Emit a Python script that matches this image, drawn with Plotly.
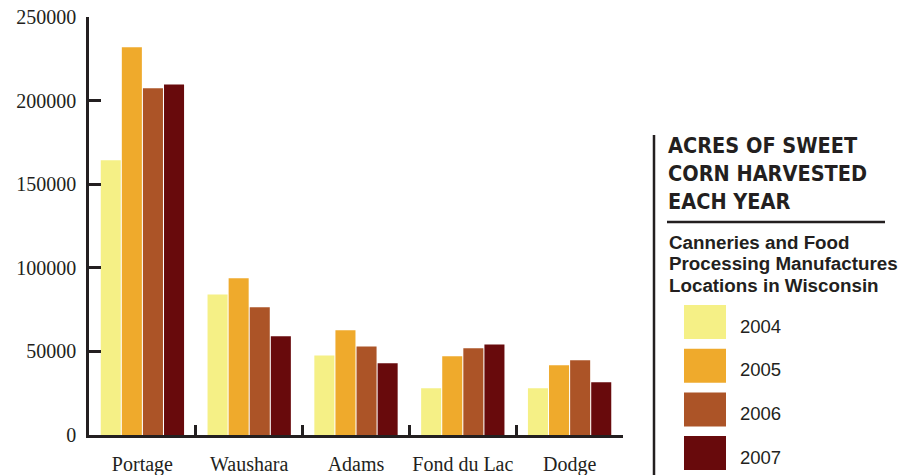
import plotly.graph_objects as go

counties = ["Portage", "Waushara", "Adams", "Fond du Lac", "Dodge"]
years = ["2004", "2005", "2006", "2007"]
acres_2004 = [164300, 84100, 47600, 27900, 27900]
acres_2005 = [231900, 93700, 62600, 47100, 41700]
acres_2006 = [207400, 76400, 53000, 51900, 44700]
acres_2007 = [209700, 59000, 42900, 54200, 31500]
series = [acres_2004, acres_2005, acres_2006, acres_2007]
colors = ["#F5F086", "#EFAA2C", "#AC5427", "#680A0C"]
y_ticks = [0, 50000, 100000, 150000, 200000, 250000]

title_lines = ["ACRES OF SWEET", "CORN HARVESTED", "EACH YEAR"]
subtitle_lines = ["Canneries and Food", "Processing Manufactures", "Locations in Wisconsin"]

W, H = 917, 475
L, R, T, B = 89, 294, 17, 40
PW, PH = W - L - R, H - T - B

def px(x):
    return (x - L) / PW

def py(y):
    return (H - B - y) / PH

axis_color = "#231F20"

fig = go.Figure()
for yr, vals, col in zip(years, series, colors):
    fig.add_trace(go.Bar(x=counties, y=vals, name=yr, marker_color=col,
                         marker_line_width=0, showlegend=False))

fig.update_layout(
    width=W, height=H,
    margin=dict(l=L, r=R, t=T, b=B, autoexpand=False),
    paper_bgcolor="white", plot_bgcolor="white",
    barmode="group", bargap=0.21, bargroupgap=0.05,
    font=dict(family="Liberation Serif", size=20, color=axis_color),
)
fig.update_xaxes(
    range=[-0.5, 4.5], showline=True, linecolor=axis_color, linewidth=2.5,
    ticks="inside", tickson="boundaries", ticklen=10, tickwidth=2.5,
    tickcolor=axis_color, showgrid=False, ticklabelstandoff=9,
    automargin=False, tickangle=0,
    tickfont=dict(family="Liberation Serif", size=20, color=axis_color),
)
fig.update_yaxes(
    range=[0, 250000], tickvals=y_ticks, ticktext=[str(v) for v in y_ticks],
    showline=True, linecolor=axis_color, linewidth=2.5,
    ticks="inside", ticklen=12, tickwidth=2.5, tickcolor=axis_color,
    showgrid=False, zeroline=False, ticklabelstandoff=6, automargin=False,
    tickfont=dict(family="Liberation Serif", size=20, color=axis_color),
)

shapes = []
shapes.append(dict(type="line", xref="paper", yref="paper",
                   x0=px(654), x1=px(654), y0=py(135), y1=py(476),
                   line=dict(color=axis_color, width=2.5)))
shapes.append(dict(type="line", xref="paper", yref="paper",
                   x0=px(667), x1=px(885), y0=py(222), y1=py(222),
                   line=dict(color=axis_color, width=2.5)))

annotations = []
for i, line in enumerate(title_lines):
    annotations.append(dict(text="<b>" + line + "</b>", xref="paper", yref="paper",
                            x=px(666), y=py(145 + i * 28.3), xanchor="left",
                            yanchor="middle", showarrow=False,
                            font=dict(family="DejaVu Sans Condensed, DejaVu Sans",
                                      size=21.5, color=axis_color)))
for i, line in enumerate(subtitle_lines):
    annotations.append(dict(text="<b>" + line + "</b>", xref="paper", yref="paper",
                            x=px(667), y=py(242 + i * 21.5), xanchor="left",
                            yanchor="middle", showarrow=False,
                            font=dict(family="Liberation Sans", size=18.8, color=axis_color)))

sw_top = 305
for i, (yr, col) in enumerate(zip(years, colors)):
    y0 = sw_top + i * 43.7
    shapes.append(dict(type="rect", xref="paper", yref="paper",
                       x0=px(684), x1=px(726), y0=py(y0 + 34), y1=py(y0),
                       fillcolor=col, line=dict(width=0)))
    annotations.append(dict(text=yr, xref="paper", yref="paper",
                            x=px(738), y=py(y0 + 21), xanchor="left",
                            yanchor="middle", showarrow=False,
                            font=dict(family="Liberation Sans", size=18.5,
                                      color=axis_color)))

fig.update_layout(shapes=shapes, annotations=annotations)
fig.write_html("out.html", config={"displayModeBar": False},
               post_script="document.body.style.margin='0';")
